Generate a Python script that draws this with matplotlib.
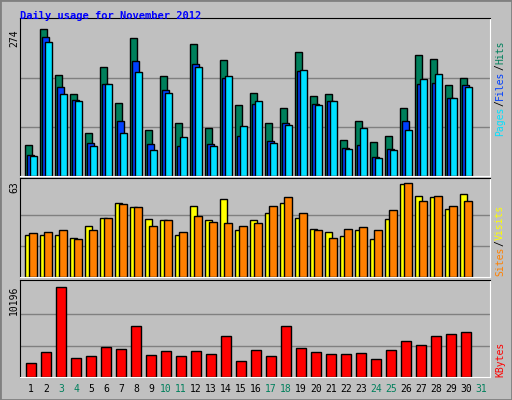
import matplotlib
matplotlib.use("Agg")
import matplotlib.pyplot as plt
import numpy as np

days = list(range(1, 32))
hits = [58,274,189,152,81,204,137,258,86,187,99,247,90,217,133,155,98,127,232,150,153,68,103,64,75,127,226,219,170,183]
files = [40,260,165,142,62,172,103,215,60,161,55,209,60,183,75,135,66,99,196,135,139,53,58,36,51,103,172,174,146,170]
pages = [38,250,153,139,55,172,81,193,49,155,73,204,55,187,94,139,62,96,198,133,140,51,90,34,49,85,181,191,146,165]
visits = [28.5,28.5,28.5,26.5,34.7,39.6,49.9,47.2,38.9,38.2,28.5,47.8,38.2,52.7,32,38.2,43,49.9,39.6,32.7,30.6,27.8,32,25.8,38.9,63,54.7,54,45.8,56.1]
sites = [29.9,30.6,32,25.8,32,39.6,49.2,47.2,34.7,38.2,30.6,40.9,36.8,36.1,34.7,36.1,47.8,54,43,32,26.5,32.7,34,32,45,63.7,51.3,54.7,47.8,51.3]
kbytes = [1510,2746,9750,2025,2231,3261,3055,5527,2334,2849,2231,2849,2437,4394,1716,2952,2231,5527,3158,2746,2437,2437,2643,1922,2952,3879,3467,4394,4703,4909]
weekend = {3,4,10,11,17,18,24,25,31}
max_hits, max_visits, max_kb = 274, 63, 10196

BG = '#c0c0c0'
fig = plt.figure(figsize=(5.12, 4.0), dpi=100, facecolor=BG)
fig.patches.append(plt.Rectangle((0, 0), 1, 1, transform=fig.transFigure, fill=False, edgecolor='#808080', lw=2))
fig.text(20/512, 1-16/400, 'Daily usage for November 2012', color='#0000ff', fontsize=7.5,
         family='DejaVu Sans Mono', fontweight='bold', va='center', ha='left')

def mkax(bottom, height):
    ax = fig.add_axes([20/512, bottom, 470/512, height], facecolor=BG)
    ax.set_xlim(0.267, 31.6)
    for s in ['left', 'top']:
        ax.spines[s].set_color('black')
    for s in ['right', 'bottom']:
        ax.spines[s].set_color('white')
    ax.set_xticks([]); ax.set_yticks([])
    return ax

x = np.array(days[:len(hits)], dtype=float)
kw = dict(edgecolor='black', linewidth=1, align='edge')

ax1 = mkax(1-176/400, 158/400)
ax1.set_ylim(0, max_hits*1.075)
for g in [max_hits/3, 2*max_hits/3]:
    ax1.axhline(g, color='#808080', lw=1, zorder=0)
ax1.bar(x-6/15, hits, width=7/15, color='#00805c', **kw)
ax1.bar(x-4/15, files, width=7/15, color='#0040ff', **kw)
ax1.bar(x-1/15, pages, width=7/15, color='#00e0ff', **kw)

ax2 = mkax(1-277/400, 99/400)
ax2.set_ylim(0, max_visits*1.06)
for g in [max_visits/3, 2*max_visits/3]:
    ax2.axhline(g, color='#808080', lw=1, zorder=0)
ax2.bar(x-6/15, visits, width=7/15, color='#ffff00', **kw)
ax2.bar(x-2/15, sites, width=8/15, color='#ff8000', **kw)

ax3 = mkax(1-377/400, 97/400)
ax3.set_ylim(0, max_kb*1.03)
for g in [max_kb/3, 2*max_kb/3]:
    ax3.axhline(g, color='#808080', lw=1, zorder=0)
ax3.bar(x-5/15, kbytes, width=10/15, color='#ff0000', **kw)

fig.text(14/512, 1-38/400, str(max_hits), rotation=90, fontsize=7, family='DejaVu Sans Mono', va='center', ha='center')
fig.text(14/512, 1-187/400, str(max_visits), rotation=90, fontsize=7, family='DejaVu Sans Mono', va='center', ha='center')
fig.text(14/512, 1-300/400, str(max_kb), rotation=90, fontsize=7, family='DejaVu Sans Mono', va='center', ha='center')

def rlabel(parts, ybottom):
    y = ybottom
    for txt, col in parts:
        fig.text(500/512, 1-y/400, txt, rotation=90, fontsize=7, family='DejaVu Sans Mono',
                 color=col, va='bottom', ha='center')
        y -= 6.0*len(txt)
rlabel([('Pages', '#00e0ff'), ('/', 'black'), ('Files', '#0040ff'), ('/', 'black'), ('Hits', '#00805c')], 136)
rlabel([('Sites', '#ff8000'), ('/', 'black'), ('Visits', '#ffff00')], 276)
rlabel([('KBytes', '#ff0000')], 377)

for d in days:
    fig.text((31+15*(d-1))/512, 1-389/400, str(d), fontsize=7, family='DejaVu Sans Mono',
             color='#00805c' if d in weekend else 'black', ha='center', va='center')

fig.savefig('out.png', dpi=100, facecolor=BG)
